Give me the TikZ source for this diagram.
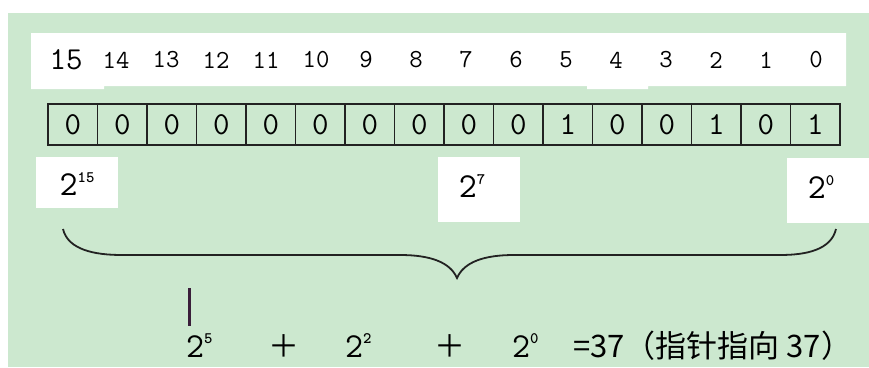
\documentclass[tikz,border=0pt]{standalone}
\usepackage{fontspec}
\newfontfamily\cjk{Noto Sans CJK SC}
\usepackage{tikz}
\usetikzlibrary{positioning}
\usepackage{xcolor}
\definecolor{paper}{HTML}{CCE8CF}
\definecolor{ink}{HTML}{222222}
\definecolor{cursor}{HTML}{3A1E3A}
\newcommand{\pw}[1]{2\raisebox{0.38em}{\fontsize{16}{16}\selectfont\bfseries #1}}
\tikzset{
  bitlabel/.style={font=\ttfamily\fontsize{26}{26}\selectfont,inner sep=0pt},
  bitcell/.style={draw=ink,line width=1.3pt,minimum width=49.5pt,minimum height=41pt,
    inner sep=0pt,outer sep=0pt,font=\ttfamily\fontsize{32}{32}\selectfont},
  power/.style={font=\ttfamily\fontsize{35}{35}\selectfont,inner sep=0pt},
  sumtext/.style={font=\cjk\fontsize{31}{31}\selectfont,inner sep=0pt},
  curly/.style={draw=ink,line width=1.8pt},
  marker/.style={draw=cursor,line width=3pt}
}

\begin{document}
\begin{tikzpicture}[x=1pt,y=-1pt]
  \useasboundingbox (0,0) rectangle (869,367);
  \fill[white] (0,0) rectangle (869,367);
  \fill[paper] (8,13) rectangle (869,367);
  % white strips behind the texts
  \fill[white] (31,33) -- (846,33) -- (846,86) -- (648,86) -- (648,89) -- (587,89)
    -- (587,86) -- (104,86) -- (104,89) -- (31,89) -- cycle;
  \fill[white] (36,157) rectangle (118,208);
  \fill[white] (438,157) rectangle (520,222);
  \fill[white] (787,158) rectangle (869,223);
  % bit numbers
  \node[bitlabel,font=\ttfamily\fontsize{32}{32}\selectfont] (lab15) at (66,60) {15};
  \foreach \b in {0,...,14}
    \node[bitlabel] (lab\b) at ({816-50*\b},60) {\b};
  % the sixteen cells
  \foreach \v [count=\k from 0, evaluate=\k as \b using {int(15-\k)}] in
      {0,0,0,0,0,0,0,0,0,0,1,0,0,1,0,1}
    \node[bitcell] (cell\b) at ({72.75+49.5*\k},124.5) {\v};
  % weights
  \node[power] (w15) at (77,184) {\pw{15}};
  \node[power] (w7) at (472,186) {\pw{7}};
  \node[power] (w0) at (821,187) {\pw{0}};
  % brace
  \coordinate (bl) at (63,229);
  \coordinate (bm) at (457,278);
  \coordinate (br) at (836,229);
  \draw[curly] (bl) .. controls (68,250) and (95,255) .. (122,255) -- (400,255)
    .. controls (430,255) and (450,262) .. (bm)
    .. controls (464,262) and (484,255) .. (514,255) -- (780,255)
    .. controls (806,255) and (831,250) .. (br);
  % sum
  \draw[marker] (189,288) -- (189,326);
  \node[power,anchor=base west] (t5) at (186,357) {\pw{5}};
  \node[sumtext] (p1) at (284,346) {＋};
  \node[power,anchor=base west] (t2) at (345,357) {\pw{2}};
  \node[sumtext] (p2) at (450,346) {＋};
  \node[power,anchor=base west] (t0) at (512,357) {\pw{0}};
  \node[sumtext,anchor=base west] (res) at (573,357) {=37（指针指向 37）};
\end{tikzpicture}
\end{document}
